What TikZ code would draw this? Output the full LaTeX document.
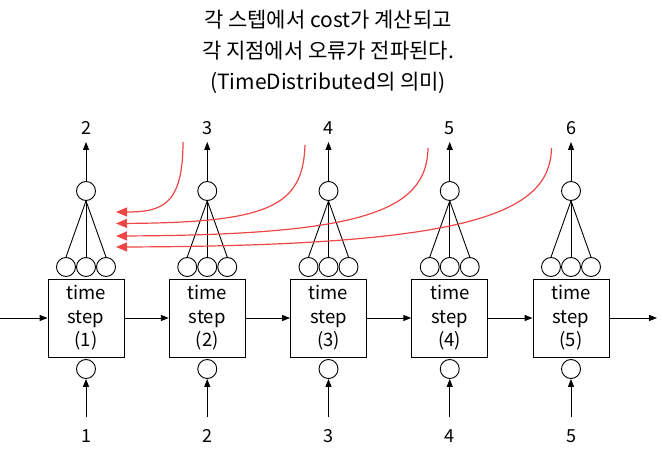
\documentclass[tikz,border=0pt]{standalone}
\usepackage{fontspec}
\setmainfont{Noto Sans CJK KR}
\usetikzlibrary{arrows.meta}

\tikzset{every picture/.style={line width=0.9pt}}
\tikzset{
  cellbox/.style={draw, minimum width=76pt, minimum height=78pt, align=center, font=\fontsize{18.5}{23.5}\selectfont, inner sep=0pt},
  unit/.style={draw, circle, minimum size=19pt, inner sep=0pt},
  numlabel/.style={font=\fontsize{18}{20}\selectfont, inner sep=0pt},
  blackarrow/.style={-{Triangle[length=8pt,width=6pt]}},
  redarrow/.style={color={rgb, 255:red, 238; green, 70; blue, 70}, line width=1.2pt, -{Triangle[length=11pt,width=9pt]}}
}

\begin{document}
\begin{tikzpicture}[x=1pt,y=1pt,yscale=-1,xscale=1]
%set diagram: 661 wide, 454 high
\useasboundingbox (0,0) rectangle (661,454);

% Text Node
\node [font=\fontsize{21}{31}\selectfont, align=center] (title) at (328,52) {각 스텝에서 cost가 계산되고\\각 지점에서 오류가 전파된다.\\(TimeDistributed의 의미)};

%Shape: time step columns
\foreach \i/\cx in {1/86, 2/207.25, 3/328.5, 4/449.75, 5/571} {
  \node [cellbox] (step\i) at (\cx,318) {time\\step\\(\i)};
  \node [unit] (in\i) at (\cx,369) {};
  \node [numlabel] (x\i) at (\cx,436) {\i};
  \coordinate (xs\i) at (\cx,417);
  \draw [blackarrow] (xs\i) -- (in\i.south);
  \node [unit] (ha\i) at (\cx-20,267) {};
  \node [unit] (hb\i) at (\cx,267) {};
  \node [unit] (hc\i) at (\cx+20,267) {};
  \node [unit] (out\i) at (\cx,191) {};
  \draw (out\i.south) -- (ha\i.north);
  \draw (out\i.south) -- (hb\i.north);
  \draw (out\i.south) -- (hc\i.north);
  \coordinate (ye\i) at (\cx,142);
  \draw [blackarrow] (out\i.north) -- (ye\i);
  \pgfmathtruncatemacro{\nxt}{\i+1}
  \node [numlabel] (y\i) at (\cx,128) {\nxt};
}

%Shape: recurrent connections
\coordinate (left) at (0,318);
\coordinate (right) at (657,318);
\draw [blackarrow] (left) -- (step1.west);
\draw [blackarrow] (step1.east) -- (step2.west);
\draw [blackarrow] (step2.east) -- (step3.west);
\draw [blackarrow] (step3.east) -- (step4.west);
\draw [blackarrow] (step4.east) -- (step5.west);
\draw [blackarrow] (step5.east) -- (right);

%Shape: error propagation curves
\coordinate (e1) at (183,142);
\coordinate (e2) at (305,145);
\coordinate (e3) at (428,148);
\coordinate (e4) at (551.5,148);
\coordinate (t1) at (116,212);
\coordinate (t2) at (116,223.5);
\coordinate (t3) at (116,236);
\coordinate (t4) at (116,247);
\draw [redarrow] (e1) .. controls (183,205) and (162,212) .. (t1);
\draw [redarrow] (e2) .. controls (303,207) and (268,222.5) .. (t2);
\draw [redarrow] (e3) .. controls (427,212) and (360,235) .. (t3);
\draw [redarrow] (e4) .. controls (550,214) and (470,246) .. (t4);

\end{tikzpicture}
\end{document}
